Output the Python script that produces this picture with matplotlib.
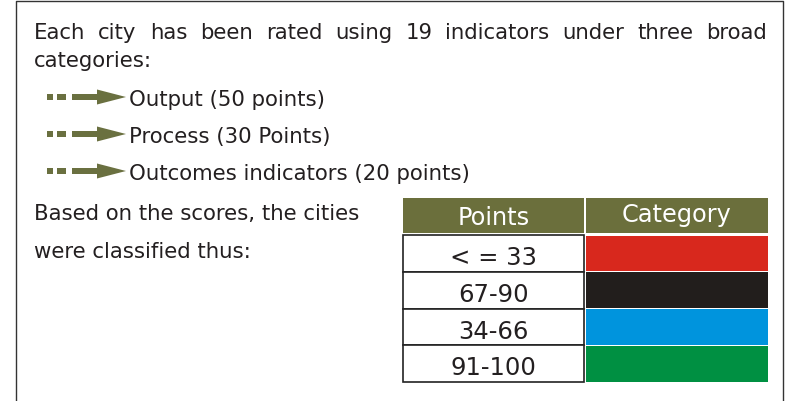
import matplotlib
matplotlib.use("Agg")
from matplotlib import pyplot as plt
from matplotlib.patches import Rectangle, Polygon

# Content
intro_words = "Each city has been rated using 19 indicators under three broad".split()
intro_line2 = "categories:"
indicators = ["Output (50 points)", "Process (30 Points)", "Outcomes indicators (20 points)"]
note_lines = ["Based on the scores, the cities", "were classified thus:"]
header = ["Points", "Category"]
point_ranges = ["< = 33", "67-90", "34-66", "91-100"]
category_colors = ["#d8281d", "#221e1c", "#0094dd", "#009042"]

olive = "#6b6f3c"
arrow_col = "#6a7040"
text_col = "#231f20"

plt.rcParams['font.family'] = ['DejaVu Sans']

fig = plt.figure(figsize=(7.9, 4.02), dpi=100)
ax = fig.add_axes([0, 0, 1, 1])
ax.set_xlim(0, 790)
ax.set_ylim(402, 0)
ax.axis("off")

# frame
ax.plot([16, 16, 783, 783], [402, 2, 2, 402], color="#333333", lw=1.0)

# first line, justified between 34 and 767
fig.canvas.draw()
r = fig.canvas.get_renderer()
fs = 15.3
texts = [ax.text(0, 39, w, fontsize=fs, color=text_col, va="baseline", ha="left") for w in intro_words]
widths = []
inv = ax.transData.inverted()
for t in texts:
    bb = t.get_window_extent(renderer=r)
    x0 = inv.transform((bb.x0, 0))[0]
    x1 = inv.transform((bb.x1, 0))[0]
    widths.append(x1 - x0)
gap = (767 - 34 - sum(widths)) / (len(texts) - 1)
x = 34
for t, w in zip(texts, widths):
    t.set_x(x)
    x += w + gap

ax.text(34, 67, intro_line2, fontsize=fs, color=text_col, va="baseline")

# arrows with indicator text
for i, label in enumerate(indicators):
    y = 98 + i * 37
    ax.add_patch(Rectangle((47, y - 3), 6, 6, color=arrow_col, lw=0))
    ax.add_patch(Rectangle((57, y - 3), 9, 6, color=arrow_col, lw=0))
    ax.add_patch(Rectangle((72, y - 3), 27, 6, color=arrow_col, lw=0))
    ax.add_patch(Polygon([(97, y - 7.5), (126, y), (97, y + 7.5)], closed=True, color=arrow_col, lw=0))
    ax.text(129, y + 8, label, fontsize=fs, color=text_col, va="baseline")

ax.text(34, 220, note_lines[0], fontsize=fs, color=text_col, va="baseline")
ax.text(34, 258, note_lines[1], fontsize=fs, color=text_col, va="baseline")

# table
col_x = [403, 586]
col_w = [181, 182]
header_base = [225, 222]
ax.add_patch(Rectangle((col_x[0], 199), col_w[0], 35, color=olive, lw=0))
ax.add_patch(Rectangle((col_x[1], 199), col_w[1], 35, color=olive, lw=0))
for cx, cw, h, hb in zip(col_x, col_w, header, header_base):
    ax.text(cx + cw / 2, hb, h, fontsize=17.3, color="white", ha="center", va="baseline")

row_h = 36.8
for i, (pts, col) in enumerate(zip(point_ranges, category_colors)):
    y0 = 236 + i * row_h
    ax.add_patch(Rectangle((col_x[0], y0), col_w[0], row_h, facecolor="white",
                           edgecolor="#222222", lw=1.2))
    ax.add_patch(Rectangle((col_x[1], y0 + 0.6), col_w[1], row_h - 1.2, color=col, lw=0))
    ax.text(col_x[0] + col_w[0] / 2, y0 + 29, pts, fontsize=17.5,
            color=text_col, ha="center", va="baseline")

fig.savefig("out.png", dpi=100)
